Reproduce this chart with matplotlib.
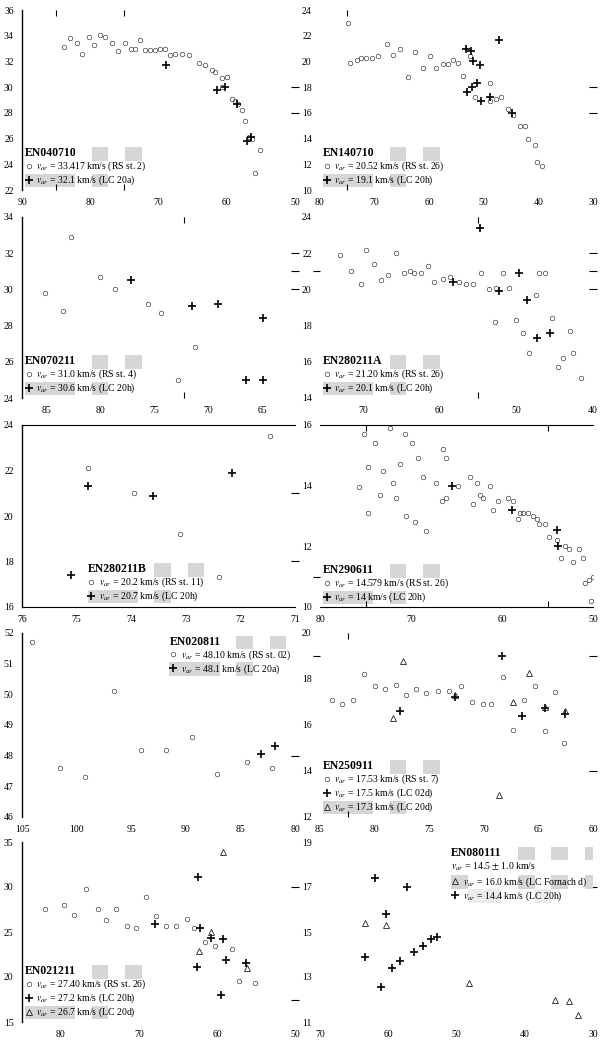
import matplotlib
matplotlib.use('Agg')
import matplotlib.pyplot as plt
from matplotlib.patches import Rectangle

plt.rcParams['font.family'] = ['Liberation Serif', 'DejaVu Serif']
plt.rcParams['mathtext.fontset'] = 'stix'

# ---------------- data ----------------
# EN040710
p1_rs_x = [83.9, 82.9, 82.0, 81.2, 80.2, 79.5, 78.5, 77.8, 76.8, 75.9, 74.9, 74.1, 73.4, 72.7, 72.0, 71.2,
           70.5, 69.8, 69.0, 68.3, 67.6, 66.6, 65.6, 64.1, 63.2, 62.2, 61.7, 60.7, 60.0, 60.7, 59.3, 58.8,
           58.3, 57.8, 57.3, 56.8, 56.3, 55.1, 55.9]
p1_rs_y = [33.15, 33.8, 33.4, 32.6, 33.9, 33.3, 34.05, 33.9, 33.4, 32.8, 33.4, 33.0, 33.0, 33.7, 32.9, 32.9,
           32.9, 33.0, 33.0, 32.5, 32.6, 32.6, 32.5, 31.85, 31.7, 31.3, 31.2, 30.7, 30.8, 30.0, 29.1, 28.9,
           28.7, 28.2, 27.4, 26.1, 26.0, 25.1, 23.3]
p1_lc_x = [68.9, 61.5, 60.3, 58.5, 57.1, 56.4]
p1_lc_y = [31.7, 29.8, 30.0, 28.7, 25.8, 26.1]

# EN140710
p2_rs_x = [74.5, 73.3, 72.4, 71.5, 70.5, 69.3, 67.7, 66.6, 65.4, 63.8, 62.6, 61.1, 59.9, 58.7, 57.4, 56.5,
           55.6, 54.7, 53.8, 52.6, 51.6, 48.9, 48.9, 47.7, 46.8, 45.6, 44.6, 43.4, 42.5, 41.9, 40.7, 40.2,
           39.3, 74.8]
p2_rs_y = [19.9, 20.1, 20.3, 20.3, 20.3, 20.4, 21.35, 20.5, 21.0, 18.8, 20.7, 19.5, 20.4, 19.5, 19.8, 19.8,
           20.1, 19.9, 18.9, 20.4, 17.2, 18.3, 16.9, 17.1, 17.2, 16.3, 15.8, 15.0, 15.0, 14.0, 13.5, 12.2,
           11.9, 23.0]
p2_lc_x = [53.2, 52.4, 52.0, 50.7, 53.0, 52.1, 51.2, 50.6, 48.9, 47.2, 44.9]
p2_lc_y = [21.0, 20.8, 20.0, 19.7, 17.6, 18.0, 18.3, 16.9, 17.2, 21.7, 16.0]

# EN070211
p3_rs_x = [85.15, 83.5, 82.8, 80.1, 78.7, 75.6, 74.4, 71.3, 72.8]
p3_rs_y = [29.8, 28.8, 32.9, 30.7, 30.0, 29.2, 28.7, 26.8, 25.0]
p3_lc_x = [77.2, 71.5, 69.1, 65.0, 66.5, 65.0]
p3_lc_y = [30.5, 29.1, 29.2, 28.4, 25.0, 25.0]

# EN280211A
p4_rs_x = [73.0, 71.5, 70.2, 69.6, 68.6, 67.6, 66.7, 65.7, 64.6, 63.9, 63.3, 62.4, 61.5, 60.7, 59.6, 58.7,
           57.5, 56.5, 55.7, 54.6, 53.5, 52.6, 51.7, 50.9, 52.8, 50.0, 49.1, 48.3, 47.4, 47.0, 46.3, 45.4,
           44.6, 43.9, 43.0, 42.6, 41.5]
p4_rs_y = [21.9, 21.0, 20.3, 22.2, 21.4, 20.5, 20.8, 22.0, 20.9, 21.0, 20.9, 20.9, 21.3, 20.4, 20.6, 20.7,
           20.4, 20.3, 20.3, 20.9, 20.0, 20.1, 20.9, 20.1, 18.2, 18.3, 17.6, 16.5, 19.7, 20.9, 20.9, 18.4,
           15.7, 16.2, 17.7, 16.5, 15.1]
p4_lc_x = [58.2, 54.8, 52.2, 49.6, 48.6, 47.3, 45.6]
p4_lc_y = [20.4, 23.4, 19.9, 20.9, 19.4, 17.3, 17.6]

# EN280211B
p5_rs_x = [74.8, 73.95, 73.1, 72.4, 71.45]
p5_rs_y = [22.1, 21.0, 19.2, 17.3, 23.5]
p5_lc_x = [75.1, 74.8, 73.6, 72.15]
p5_lc_y = [17.4, 21.3, 20.9, 21.9]

# EN290611
p6_rs_x = [75.7, 75.2, 74.7, 74.7, 74.0, 73.4, 73.1, 72.3, 72.0, 71.6, 71.2, 70.7, 70.5, 69.9, 69.6, 69.2,
           68.7, 68.3, 67.2, 66.6, 66.5, 66.2, 66.2, 64.8, 63.5, 63.2, 62.8, 62.4, 62.1, 61.3, 61.0, 60.4,
           59.3, 58.8, 58.2, 58.0, 57.7, 57.1, 56.6, 56.2, 55.9, 55.3, 54.8, 54.0, 53.5, 53.1, 52.6, 52.2,
           51.5, 51.1, 50.9, 50.4, 50.0, 50.2]
p6_rs_y = [13.96, 15.7, 13.1, 14.6, 15.4, 13.7, 14.5, 15.9, 14.1, 13.6, 14.7, 15.7, 13.0, 15.4, 12.8, 14.9,
           14.3, 12.5, 14.1, 13.5, 15.2, 13.6, 14.9, 14.0, 14.3, 13.4, 14.1, 13.7, 13.6, 14.0, 13.2, 13.5,
           13.6, 13.5, 12.9, 13.1, 13.1, 13.1, 13.0, 12.9, 12.75, 12.75, 12.3, 12.2, 11.6, 12.0, 11.9, 11.5,
           11.9, 11.6, 10.8, 10.9, 11.0, 10.2]
p6_lc_x = [65.5, 58.85, 54.0, 53.8]
p6_lc_y = [14.0, 13.2, 12.55, 12.0]

# EN020811
p7_rs_x = [104.1, 101.5, 99.2, 96.6, 94.1, 91.8, 89.4, 87.1, 84.4, 82.1]
p7_rs_y = [51.7, 47.6, 47.3, 50.1, 48.2, 48.2, 48.6, 47.4, 47.8, 47.6]
p7_lc_x = [83.1, 81.8]
p7_lc_y = [48.05, 48.3]

# EN250911
p8_rs_x = [83.9, 83.0, 82.0, 81.0, 80.0, 79.05, 78.0, 77.1, 76.2, 75.3, 74.2, 73.2, 72.1, 71.1, 70.1, 69.3,
           68.2, 67.3, 66.3, 65.3, 64.4, 63.5, 62.7]
p8_rs_y = [17.1, 16.9, 17.1, 18.2, 17.7, 17.55, 17.75, 17.3, 17.55, 17.4, 17.5, 17.5, 17.7, 17.0, 16.9, 16.9,
           18.1, 15.8, 17.1, 17.7, 15.75, 17.45, 15.2]
p8_lc02_x = [77.7, 68.3, 66.5, 64.4, 62.6, 72.65]
p8_lc02_y = [16.6, 19.0, 16.4, 16.75, 16.5, 17.2]
p8_lc20_x = [78.35, 77.4, 72.65, 67.3, 65.85, 64.4, 62.6, 68.6]
p8_lc20_y = [16.3, 18.8, 17.3, 17.0, 18.25, 16.8, 16.6, 12.95]

# EN021211
p9_rs_x = [82.1, 79.6, 78.3, 76.8, 75.3, 74.2, 72.9, 71.6, 70.4, 69.1, 67.8, 66.5, 65.2, 63.9, 62.9, 61.6,
           60.3, 58.1, 57.2, 55.1]
p9_rs_y = [27.6, 28.0, 26.9, 29.8, 27.6, 26.3, 27.6, 25.7, 25.4, 28.9, 26.8, 25.7, 25.7, 26.5, 25.4, 23.9,
           23.5, 23.1, 19.6, 19.3]
p9_lc20h_x = [68.0, 62.4, 62.2, 60.8, 59.2, 58.8, 62.55, 59.5, 56.3]
p9_lc20h_y = [25.85, 31.1, 25.4, 24.3, 24.2, 21.9, 21.1, 18.0, 21.6]
p9_lc20d_x = [59.2, 62.3, 60.8, 56.2]
p9_lc20d_y = [33.9, 22.85, 25.0, 21.0]

# EN080111
p10_lc20h_x = [62.0, 57.3, 60.3, 63.4, 61.0, 59.5, 58.3, 56.2, 54.9, 53.7, 52.9]
p10_lc20h_y = [17.4, 17.0, 15.8, 13.9, 12.55, 13.4, 13.7, 14.1, 14.4, 14.7, 14.8]
p10_forn_x = [63.4, 60.3, 48.1, 35.5, 33.5, 32.2]
p10_forn_y = [15.4, 15.3, 12.75, 12.0, 11.95, 11.3]

titles = ['EN040710', 'EN140710', 'EN070211', 'EN280211A', 'EN280211B',
          'EN290611', 'EN020811', 'EN250911', 'EN021211', 'EN080111']

V = r'$v_{ar}$'
labels = [
    [V + ' = 33.417 km/s (RS st. 2)', V + ' = 32.1 km/s (LC 20a)'],
    [V + ' = 20.52 km/s (RS st. 26)', V + ' = 19.1 km/s (LC 20h)'],
    [V + ' = 31.0 km/s (RS st. 4)', V + ' = 30.6 km/s (LC 20h)'],
    [V + ' = 21.20 km/s (RS st. 26)', V + ' = 20.1 km/s (LC 20h)'],
    [V + ' = 20.2 km/s (RS st. 11)', V + ' = 20.7 km/s (LC 20h)'],
    [V + ' = 14.579 km/s (RS st. 26)', V + ' = 14 km/s (LC 20h)'],
    [V + ' = 48.10 km/s (RS st. 02)', V + ' = 48.1 km/s (LC 20a)'],
    [V + ' = 17.53 km/s (RS st. 7)', V + ' = 17.5 km/s (LC 02d)', V + ' = 17.3 km/s (LC 20d)'],
    [V + ' = 27.40 km/s (RS st. 26)', V + ' = 27.2 km/s (LC 20h)', V + ' = 26.7 km/s (LC 20d)'],
    [V + ' = 16.0 km/s (LC Fornach d)', V + ' = 14.4 km/s (LC 20h)'],
]
p10_mean_label = V + r' = 14.5 $\pm$ 1.0 km/s'

xlims = [(90, 50), (80, 30), (87.3, 62), (75.6, 40), (76, 71), (80, 50), (105, 80), (85, 60), (85, 50), (70, 30)]
ylims = [(22, 36), (10, 24), (24, 34), (14, 24), (16, 24), (10, 16), (46, 52), (12, 20), (15, 35), (11, 19)]
xticks = [[90, 80, 70, 60, 50], [80, 70, 60, 50, 40, 30], [85, 80, 75, 70, 65], [70, 60, 50, 40],
          [76, 75, 74, 73, 72, 71], [80, 70, 60, 50], [105, 100, 95, 90, 85, 80],
          [85, 80, 75, 70, 65, 60], [80, 70, 60, 50], [70, 60, 50, 40, 30]]
yticks = [[22, 24, 26, 28, 30, 32, 34, 36], [10, 12, 14, 16, 18, 20, 22, 24], [24, 26, 28, 30, 32, 34],
          [14, 16, 18, 20, 22, 24], [16, 18, 20, 22, 24], [10, 12, 14, 16], [46, 47, 48, 49, 50, 51, 52],
          [12, 14, 16, 18, 20], [15, 20, 25, 30, 35], [11, 13, 15, 17, 19]]
# odd extra tick marks seen in the figure
xminor = [[85, 80, 75], [75, 70, 40], [72.3], [60, 55], [73], [75, 55], [90], [82.4, 80, 65], [80, 60], []]
yleft_minor = [[], [18, 16], [], [22, 21, 20], [], [11], [], [19, 14], [], [17]]
yright_minor = [[30, 28], [18, 16], [32, 31, 30], [22, 21, 20], [21, 18], [], [48], [19, 14], [30, 17.5], [17]]

# ---------------- layout (not data) ----------------
W, H = 600, 1042
rows_px = [(10, 190), (217, 398), (425, 607), (633, 817), (842, 1022)]
cols_px = [(22, 295), (320, 593)]

fig = plt.figure(figsize=(W / 100, H / 100), dpi=100)
axes = []
for r, (t, b) in enumerate(rows_px):
    for c, (l, rr) in enumerate(cols_px):
        ax = fig.add_axes([l / W, 1 - b / H, (rr - l) / W, (b - t) / H])
        axes.append(ax)

circ = dict(marker='o', ms=3.3, mfc='none', mec='#333333', mew=0.45, ls='none')
plus = dict(marker='+', ms=6, mec='black', mew=1.2, ls='none')
tri = dict(marker='^', ms=4.5, mfc='none', mec='#222222', mew=0.6, ls='none')

series = [
    [(p1_rs_x, p1_rs_y, circ), (p1_lc_x, p1_lc_y, plus)],
    [(p2_rs_x, p2_rs_y, circ), (p2_lc_x, p2_lc_y, plus)],
    [(p3_rs_x, p3_rs_y, circ), (p3_lc_x, p3_lc_y, plus)],
    [(p4_rs_x, p4_rs_y, circ), (p4_lc_x, p4_lc_y, plus)],
    [(p5_rs_x, p5_rs_y, circ), (p5_lc_x, p5_lc_y, plus)],
    [(p6_rs_x, p6_rs_y, circ), (p6_lc_x, p6_lc_y, plus)],
    [(p7_rs_x, p7_rs_y, circ), (p7_lc_x, p7_lc_y, plus)],
    [(p8_rs_x, p8_rs_y, circ), (p8_lc02_x, p8_lc02_y, plus), (p8_lc20_x, p8_lc20_y, tri)],
    [(p9_rs_x, p9_rs_y, circ), (p9_lc20h_x, p9_lc20h_y, plus), (p9_lc20d_x, p9_lc20d_y, tri)],
    [(p10_forn_x, p10_forn_y, tri), (p10_lc20h_x, p10_lc20h_y, plus)],
]

LEG_FS = 7.0
TITLE_FS = 8.5

leg_loc = ['lower left'] * 10
leg_anchor = [(0.01, 0.015)] * 10
leg_anchor[4] = (0.24, 0.02)
leg_loc[6] = 'upper left'; leg_anchor[6] = (0.54, 0.985)
leg_loc[9] = 'upper left'; leg_anchor[9] = (0.48, 0.815)

legends = []
for i, ax in enumerate(axes):
    handles = []
    for xs, ys, st in series[i]:
        h, = ax.plot(xs, ys, **st)
        handles.append(h)
    ax.set_xlim(*xlims[i])
    ax.set_ylim(*ylims[i])
    ax.set_xticks(xticks[i])
    ax.set_yticks(yticks[i])
    ax.set_xticks(xminor[i], minor=True)
    ax.set_yticks(yleft_minor[i], minor=True)
    ax.tick_params(axis='both', which='major', length=0, labelsize=7)
    ax.tick_params(axis='x', which='major', pad=6)
    ax.tick_params(axis='y', which='major', pad=6)
    ax.tick_params(axis='x', which='minor', top=True, bottom=True, direction='in', length=4, width=0.8)
    ax.tick_params(axis='y', which='minor', left=True, direction='out', length=5, width=0.8)
    for s in ['top', 'right', 'bottom', 'left']:
        ax.spines[s].set_visible(False)
    if i % 2 == 0:
        ax.spines['left'].set_visible(True)
        ax.spines['left'].set_linewidth(1.0)
    if i in (4, 5):
        ax.spines['top'].set_visible(True)
        ax.spines['bottom'].set_visible(True)
    if yright_minor[i]:
        sec = ax.secondary_yaxis('right')
        sec.set_yticks(yright_minor[i])
        sec.set_yticklabels([])
        sec.spines['right'].set_visible(False)
        sec.tick_params(direction='inout', length=6, width=0.8)
    title = None if i == 9 else titles[i]
    leg = ax.legend(handles, labels[i], title=title, loc=leg_loc[i], bbox_to_anchor=leg_anchor[i],
                    frameon=False, prop={'size': LEG_FS},
                    title_fontproperties={'size': TITLE_FS, 'weight': 'bold'},
                    alignment='left', handlelength=0.8, handletextpad=0.4, labelspacing=0.05,
                    borderpad=0.0, borderaxespad=0.0)
    leg.set_zorder(6)
    legends.append(leg)

# panel 10: title and mean velocity line above the legend entries
axes[9].text(0.48, 0.975, titles[9], transform=axes[9].transAxes, fontsize=TITLE_FS, fontweight='bold',
             va='top', ha='left', zorder=6)
axes[9].text(0.48, 0.895, p10_mean_label, transform=axes[9].transAxes, fontsize=LEG_FS,
             va='top', ha='left', zorder=6)

# grey patches behind the legend blocks (rendering artefact in the original)
fig.canvas.draw()
grey = '#d6d6d6'
for i, ax in enumerate(axes):
    leg = legends[i]
    bb = leg.get_window_extent().transformed(ax.transAxes.inverted())
    ax_w_px = (cols_px[i % 2][1] - cols_px[i % 2][0])
    cw = 16.7 / ax_w_px
    if i == 9:
        rh = bb.height / 2
        top = 0.975
        for cidx in (4, 6, 8):
            ax.add_patch(Rectangle((bb.x0 + cidx * cw, top - rh), cw, rh, transform=ax.transAxes,
                                   facecolor=grey, edgecolor='none', zorder=0.5))
        for cidx in (0, 4, 6, 8):
            ax.add_patch(Rectangle((bb.x0 + cidx * cw, bb.y1 - rh), cw, rh, transform=ax.transAxes,
                                   facecolor=grey, edgecolor='none', zorder=0.5))
        for cidx in (1, 2, 5):
            ax.add_patch(Rectangle((bb.x0 + cidx * cw, bb.y0), cw, rh, transform=ax.transAxes,
                                   facecolor='#ececec', edgecolor='none', zorder=0.5))
        continue
    nrows = len(labels[i]) + 1
    rh = bb.height / nrows
    for cidx in (4, 6):
        ax.add_patch(Rectangle((bb.x0 + cidx * cw, bb.y1 - rh), cw, rh, transform=ax.transAxes,
                               facecolor=grey, edgecolor='none', zorder=0.5))
    for cidx in (0, 1, 2, 4):
        ax.add_patch(Rectangle((bb.x0 + cidx * cw, bb.y0), cw, rh, transform=ax.transAxes,
                               facecolor=grey, edgecolor='none', zorder=0.5))

fig.savefig('out.png', dpi=100, facecolor='white')
